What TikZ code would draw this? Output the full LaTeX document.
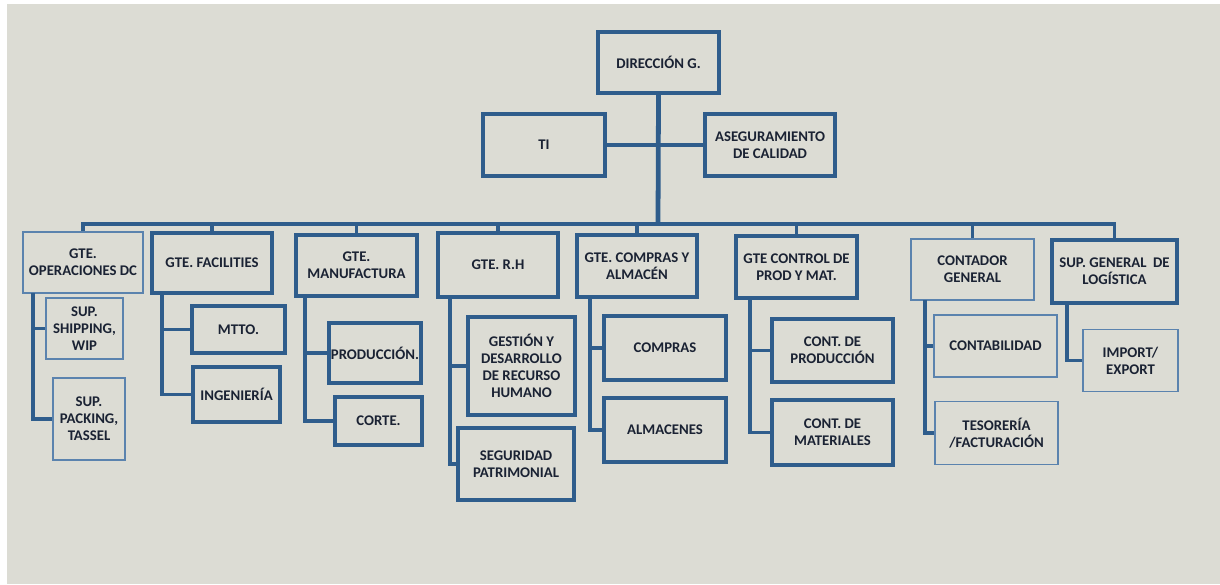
\documentclass[tikz,border=0pt]{standalone}
\usepackage{fontspec}
\setmainfont{Carlito}
\usepackage{tikz}

\definecolor{screen}{HTML}{DCDCD4}
\definecolor{frame}{HTML}{2F5D8C}
\definecolor{lightframe}{HTML}{5B83AE}
\definecolor{ink}{HTML}{1A2233}

\tikzset{
  unitbox/.style 2 args={draw=frame, line width=2.2pt, minimum width={#1*0.025cm},
    minimum height={#2*0.025cm}, inner sep=1pt, align=center, text=ink,
    font=\fontsize{10.5}{12.2}\selectfont\bfseries},
  lightbox/.style 2 args={unitbox={#1}{#2}, draw=lightframe, line width=1.4pt},
  link/.style={draw=frame, line width=2.2pt},
}

\begin{document}
\begin{tikzpicture}[x=0.025cm,y=-0.025cm]
  \useasboundingbox (0,0) rectangle (1220,584);
  \fill[screen] (7,4) rectangle (1220,584);

  % direction and staff
  \node[unitbox={121}{61}] (dir) at (658.5,62.5) {DIRECCIÓN G.};
  \node[unitbox={122}{62}] (ti) at (544,145) {TI};
  \node[unitbox={130}{62}] (aseg) at (770,145) {ASEGURAMIENTO\\DE CALIDAD};

  % managers
  \node[lightbox={120}{61}] (ops) at (83,262.5) {GTE.\\OPERACIONES DC};
  \node[unitbox={120}{60}] (fac) at (212,263) {GTE. FACILITIES};
  \node[unitbox={121}{61}] (man) at (356.5,265.5) {GTE.\\MANUFACTURA};
  \node[unitbox={120}{64}] (rh) at (498,265) {GTE. R.H};
  \node[unitbox={120}{62}] (com) at (637,266) {GTE. COMPRAS Y\\ALMACÉN};
  \node[unitbox={121}{62}] (ctl) at (796.5,267) {GTE CONTROL DE\\PROD Y MAT.};
  \node[lightbox={123}{61}] (cnt) at (972.5,269.5) {CONTADOR\\GENERAL};
  \node[unitbox={125}{63}] (log) at (1114.5,271.5) {SUP. GENERAL\ \ DE\\LOGÍSTICA};

  % departments
  \node[lightbox={77}{61}] (shp) at (84.5,328.5) {SUP.\\SHIPPING,\\WIP};
  \node[lightbox={72}{82}] (pck) at (89,419) {SUP.\\PACKING,\\TASSEL};
  \node[unitbox={93}{47}] (mtto) at (238.5,329.5) {MTTO.};
  \node[unitbox={87}{55}] (ing) at (236.5,394.5) {INGENIERÍA};
  \node[unitbox={92}{60}] (prod) at (375,353) {PRODUCCIÓN.};
  \node[unitbox={87}{48}] (corte) at (378.5,421) {CORTE.};
  \node[unitbox={107}{98}] (gest) at (521.5,366) {GESTIÓN Y\\DESARROLLO\\DE RECURSO\\HUMANO};
  \node[unitbox={116}{72}] (seg) at (516,464) {SEGURIDAD\\PATRIMONIAL};
  \node[unitbox={122}{64}] (cmp) at (665,348) {COMPRAS};
  \node[unitbox={122}{64}] (alm) at (665,430) {ALMACENES};
  \node[unitbox={121}{63}] (cprod) at (832.5,350.5) {CONT. DE\\PRODUCCIÓN};
  \node[unitbox={121}{65}] (cmat) at (832.5,432.5) {CONT. DE\\MATERIALES};
  \node[lightbox={123}{62}] (conta) at (995.5,346) {CONTABILIDAD};
  \node[lightbox={123}{63}] (teso) at (996.5,433) {TESORERÍA\\/FACTURACIÓN};
  \node[lightbox={95}{62}] (imp) at (1130.5,360.5) {IMPORT/\\EXPORT};

  \coordinate (bus) at (658,224);
  \draw[link,line width=3.4pt] (dir.south) -- (bus);
  \draw[link] (ti.east) -- (aseg.west);
  \foreach \n in {ops,fac,man,rh,com,ctl,cnt,log}
    \draw[link] (bus) -| (\n.north);

  \coordinate (opsS) at (33,293);
  \coordinate (facS) at (162,293);
  \coordinate (manS) at (305,296);
  \coordinate (rhS) at (450,297);
  \coordinate (comS) at (590,297);
  \coordinate (ctlS) at (750,298);
  \coordinate (cntS) at (925,300);
  \coordinate (logS) at (1067,303);

  \draw[link] (opsS) |- (shp.west);
  \draw[link] (opsS) |- (pck.west);
  \draw[link] (facS) |- (mtto.west);
  \draw[link] (facS) |- (ing.west);
  \draw[link] (manS) |- (prod.west);
  \draw[link] (manS) |- (corte.west);
  \draw[link] (rhS) |- (gest.west);
  \draw[link] (rhS) |- (seg.west);
  \draw[link] (comS) |- (cmp.west);
  \draw[link] (comS) |- (alm.west);
  \draw[link] (ctlS) |- (cprod.west);
  \draw[link] (ctlS) |- (cmat.west);
  \draw[link] (cntS) |- (conta.west);
  \draw[link] (cntS) |- (teso.west);
  \draw[link] (logS) |- (imp.west);
\end{tikzpicture}
\end{document}
